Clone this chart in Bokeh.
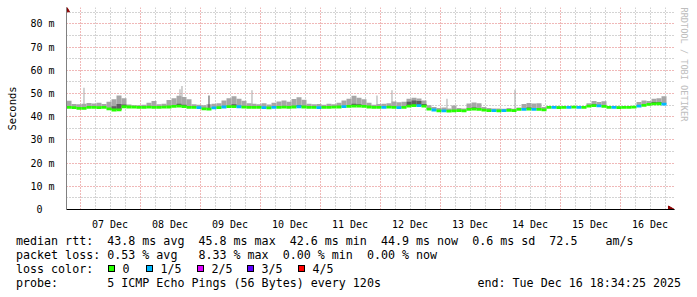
import math
import pandas as pd
from bokeh.plotting import figure
from bokeh.models import Range1d, FixedTicker, ColumnDataSource, DatetimeTickFormatter, Title, Div
from bokeh.layouts import column
from bokeh.embed import file_html
from bokeh.resources import INLINE

# ---------------- data ----------------
START = "2025-12-06 18:34:25"
END = "2025-12-16 18:34:25"
STEP_HOURS = 2  # one column per 2 hours

median_ms = [
    44.0, 43.9, 43.6, 43.6, 44.0, 44.0, 43.9, 44.0, 43.4, 42.9,
    43.0, 44.3, 44.2, 44.1, 44.0, 44.0, 44.1, 44.0, 44.0, 44.1,
    44.2, 44.5, 44.6, 44.4, 44.0, 44.0, 43.9, 43.4, 43.3, 43.8,
    43.9, 44.2, 44.4, 44.4, 44.3, 44.1, 44.0, 44.0, 44.0, 43.9,
    43.8, 44.0, 44.0, 44.1, 44.0, 44.2, 44.3, 44.2, 44.0, 44.0,
    43.9, 44.0, 44.0, 44.1, 44.2, 44.4, 44.5, 44.6, 44.6, 44.5,
    44.2, 44.0, 44.0, 44.0, 44.1, 44.0, 43.9, 44.0, 44.6, 44.8,
    44.8, 44.6, 43.3, 42.9, 42.5, 42.5, 42.4, 42.5, 42.6, 42.5,
    43.2, 43.3, 43.2, 42.8, 42.6, 42.6, 42.5, 42.6, 42.7, 42.6,
    43.2, 43.2, 43.3, 43.2, 43.2, 43.0, 44.0, 44.0, 43.9, 44.0,
    44.0, 44.1, 44.0, 44.0, 44.6, 44.8, 44.7, 44.5, 44.0, 44.0,
    43.9, 44.0, 44.0, 44.1, 44.6, 44.9, 45.3, 45.5, 45.6, 45.4,
]

smoke_max_ms = [
    46.9, 45.5, 45.4, 45.6, 45.9, 45.7, 46.0, 45.5, 46.5, 47.5,
    49.2, 48.0, 45.3, 44.9, 45.0, 45.2, 46.0, 46.8, 45.4, 45.6,
    47.2, 48.0, 49.0, 48.5, 47.5, 45.4, 45.2, 45.0, 45.4, 45.6,
    45.8, 47.0, 48.0, 48.8, 47.8, 46.9, 45.8, 45.6, 45.4, 45.8,
    45.3, 46.0, 46.6, 47.0, 46.5, 47.6, 48.4, 47.3, 45.6, 45.4,
    45.5, 45.2, 45.6, 45.4, 46.0, 47.0, 47.8, 49.0, 48.2, 47.5,
    46.0, 45.2, 45.5, 45.6, 45.8, 46.6, 46.2, 46.5, 47.8, 48.2,
    47.9, 47.0, 45.0, 44.2, 43.8, 44.0, 43.6, 44.8, 43.8, 43.6,
    45.7, 46.1, 45.8, 44.2, 43.8, 43.5, 43.6, 43.4, 43.8, 43.4,
    44.0, 45.5, 45.9, 45.7, 45.8, 44.2, 44.4, 44.3, 44.6, 44.2,
    44.4, 44.5, 44.3, 44.6, 45.8, 46.8, 46.4, 46.7, 44.6, 44.4,
    44.5, 44.3, 44.6, 44.5, 46.3, 47.0, 46.8, 47.8, 48.0, 48.8,
]

lost_pings = [
    0, 0, 0, 0, 0, 0, 0, 0, 0, 0,
    0, 0, 0, 0, 0, 0, 0, 0, 0, 0,
    0, 0, 0, 0, 0, 0, 1, 0, 0, 1,
    0, 1, 0, 0, 1, 0, 0, 0, 0, 1,
    0, 1, 0, 0, 0, 0, 1, 0, 0, 0,
    1, 0, 0, 0, 0, 1, 0, 0, 0, 0,
    0, 0, 0, 1, 0, 0, 1, 0, 0, 0,
    1, 0, 0, 1, 0, 1, 0, 0, 0, 0,
    0, 0, 0, 0, 0, 1, 0, 1, 0, 0,
    0, 1, 0, 1, 0, 0, 0, 1, 0, 0,
    1, 0, 1, 0, 0, 0, 1, 0, 0, 1,
    0, 0, 0, 0, 1, 0, 0, 0, 0, 1,
]

dark_cols = [9, 10, 11, 22, 23, 33, 46, 57, 58, 68, 69, 70, 71, 81, 92, 105, 117, 118]
dark_top_ms = [44.5, 45.5, 45.3, 45.6, 45.2, 45.4, 45.0, 45.6, 45.4, 46.5, 47.0, 46.8, 45.5,
               44.0, 44.0, 45.4, 46.3, 46.4]

spike_times = ["2025-12-07 01:22", "2025-12-08 15:46", "2025-12-08 16:34", "2025-12-09 20:34",
               "2025-12-10 14:58", "2025-12-11 22:34", "2025-12-12 04:34", "2025-12-13 02:34",
               "2025-12-14 05:46"]
spike_ms = [52.5, 51.8, 53.3, 51.4, 47.3, 49.1, 51.4, 47.7, 51.6]
dark_spike_times = ["2025-12-09 03:22"]
dark_spike_ms = [49.1]

day_labels = ["07 Dec", "08 Dec", "09 Dec", "10 Dec", "11 Dec",
              "12 Dec", "13 Dec", "14 Dec", "15 Dec", "16 Dec"]
y_ticks = [0, 10, 20, 30, 40, 50, 60, 70, 80]
y_labels = ["0  ", "10 m", "20 m", "30 m", "40 m", "50 m", "60 m", "70 m", "80 m"]

loss_names = ["0", "1/5", "2/5", "3/5", "4/5"]
loss_colors = ["#26ff00", "#00b8ff", "#dd00ff", "#5e00ff", "#ff0000"]

rtt_stats = {"avg": 43.8, "max": 45.8, "min": 42.6, "now": 44.9, "sd": 0.6, "ams": 72.5}
loss_stats = {"avg": 0.53, "max": 8.33, "min": 0.00, "now": 0.00}
probe_text = "5 ICMP Echo Pings (56 Bytes) every 120s"
end_text = "end: Tue Dec 16 18:34:25 2025"
watermark = "RRDTOOL / TOBI OETIKER"

# ---------------- derived ----------------
NB = "\u00a0"


def keep_spaces(s):
    return s.replace(" ", NB)


t0 = pd.Timestamp(START)
t1 = pd.Timestamp(END)
step = pd.Timedelta(hours=STEP_HOURS)
pix = pd.Timedelta(minutes=24)          # one screen pixel of time
n = len(median_ms)
lefts = [t0 + i * step for i in range(n)]
rights = [t0 + (i + 1) * step for i in range(n)]


def ms(ts):
    return ts.value / 1e6


cols = ColumnDataSource(dict(
    left=lefts, right=rights, med=median_ms, smax=smoke_max_ms,
    mlo=[m - 0.6 for m in median_ms], mhi=[m + 0.6 for m in median_ms],
    color=[loss_colors[k] for k in lost_pings],
))
dark = ColumnDataSource(dict(
    left=[lefts[i] for i in dark_cols], right=[rights[i] for i in dark_cols],
    bottom=[median_ms[i] for i in dark_cols], top=dark_top_ms,
))


def spike_src(times, vals):
    ts = [pd.Timestamp(t) for t in times]
    idx = [int((t - t0) / step) for t in ts]
    return ColumnDataSource(dict(left=ts, right=[t + pix for t in ts],
                                 bottom=[median_ms[i] for i in idx], top=vals))


noons = [ms(pd.Timestamp("2025-12-07 12:00") + pd.Timedelta(days=k)) for k in range(len(day_labels))]
midnights = [ms(pd.Timestamp("2025-12-07 00:00") + pd.Timedelta(days=k)) for k in range(10)]
six_h = [ms(pd.Timestamp("2025-12-06 18:00") + pd.Timedelta(hours=6 * k)) for k in range(41)]
six_h = [v for v in six_h if v not in midnights]

FONT = "DejaVu Sans Mono"
RED = "#e07070"
GRAY = "#a8a8a8"
Y_TOP = 85
PX_PER_MS = 203 / 85.0

# x range runs a few pixels past the end (room for the axis arrow), y range likewise
x_end = t1 + 8 * pix
y_end = Y_TOP + 5 / PX_PER_MS

p = figure(width=697, height=232, x_range=Range1d(ms(t0), ms(x_end)), y_range=Range1d(0, y_end),
           output_backend="svg", toolbar_location=None,
           min_border_left=66, min_border_right=23, min_border_top=7, min_border_bottom=17,
           background_fill_color="white", border_fill_color="white")
p.outline_line_color = None

# grids
p.xgrid.ticker = FixedTicker(ticks=midnights, minor_ticks=six_h)
p.xgrid.grid_line_color = RED
p.xgrid.grid_line_dash = "1 2"
p.xgrid.minor_grid_line_color = GRAY
p.xgrid.minor_grid_line_dash = "1 2"
yt = FixedTicker(ticks=y_ticks, minor_ticks=[5, 15, 25, 35, 45, 55, 65, 75, 85])
p.ygrid.ticker = yt
p.ygrid.grid_line_color = RED
p.ygrid.grid_line_dash = "1 2"
p.ygrid.minor_grid_line_color = GRAY
p.ygrid.minor_grid_line_dash = "1 2"

# axes
xa = p.xaxis[0]
xa.ticker = FixedTicker(ticks=noons)
xa.formatter = DatetimeTickFormatter(days="%d %b", hours="%d %b", hourmin="%d %b", months="%d %b")
xa.major_label_overrides = {int(k): v for k, v in zip(noons, day_labels)}
xa.major_tick_line_color = None
xa.minor_tick_line_color = None
xa.major_label_standoff = 3
xa.major_label_text_font = FONT
xa.major_label_text_font_size = "10px"
xa.major_label_text_color = "black"
xa.axis_line_color = "black"

ya = p.yaxis[0]
ya.ticker = yt
ya.major_label_overrides = {k: keep_spaces(v) for k, v in zip(y_ticks, y_labels)}
ya.major_tick_line_color = None
ya.minor_tick_line_color = None
ya.major_label_standoff = 6
ya.major_label_text_font = FONT
ya.major_label_text_font_size = "10px"
ya.major_label_text_color = "black"
ya.axis_line_color = "#808080"
ya.axis_label = "Seconds"
ya.axis_label_standoff = 9
ya.axis_label_text_font = FONT
ya.axis_label_text_font_size = "10.5px"
ya.axis_label_text_font_style = "normal"
ya.axis_label_text_color = "black"

# smoke
p.quad(left="left", right="right", bottom="med", top="smax", source=cols,
       fill_color="#a6a6a6", line_color=None)
p.quad(left="left", right="right", bottom="bottom", top="top", source=spike_src(spike_times, spike_ms),
       fill_color="#a6a6a6", line_color=None)
p.quad(left="left", right="right", bottom="bottom", top="top", source=dark,
       fill_color="#5e5e5e", line_color=None)
p.quad(left="left", right="right", bottom="bottom", top="top",
       source=spike_src(dark_spike_times, dark_spike_ms), fill_color="#4a4a4a", line_color=None)
# median coloured by loss
p.quad(left="left", right="right", bottom="mlo", top="mhi", source=cols,
       fill_color="color", line_color=None)

# axis arrows (at the ends of the axes)
p.scatter(x=[t1 + 4 * pix], y=[0], marker="triangle", size=7, angle=-math.pi / 2,
          fill_color="#8b0000", line_color="#8b0000")
p.scatter(x=[t0], y=[y_end - 1.1], marker="triangle", size=6,
          fill_color="#8b0000", line_color="#8b0000")

# watermark at the right edge
p.add_layout(Title(text=watermark, align="left", standoff=9, text_font=FONT,
                   text_font_size="8.6px", text_font_style="normal", text_color="#bdbdbd"), "right")

# ---------------- legend block (HTML, monospace, exact spacing kept) ----------------
r = rtt_stats
l = loss_stats
line1 = (f"median rtt:  {r['avg']:.1f} ms avg  {r['max']:.1f} ms max  {r['min']:.1f} ms min  "
         f"{r['now']:.1f} ms now  {r['sd']:.1f} ms sd  {r['ams']:.1f}    am/s")
line2 = (f"packet loss: {l['avg']:.2f} % avg   {l['max']:.2f} % max  {l['min']:.2f} % min  "
         f"{l['now']:.2f} % now")
line3 = "loss color:"
line4 = "probe:       " + probe_text

TXT_STYLE = (f"font-family:'{FONT}',monospace;font-size:11.66px;line-height:14px;"
             "color:#000;white-space:pre;margin:0;padding:0;")


def span(x, top, txt):
    return f'<span style="position:absolute;left:{x}px;top:{top}px;{TXT_STYLE}">{txt}</span>'


row_top = [2, 16, 30, 44]
parts = [span(16, row_top[0], line1), span(16, row_top[1], line2),
         span(16, row_top[2], line3), span(16, row_top[3], line4),
         span(477.5, row_top[3], end_text)]
box_x = [108, 146, 197, 247, 298]
for bx, name, colr in zip(box_x, loss_names, loss_colors):
    parts.append(f'<span style="position:absolute;left:{bx}px;top:33px;width:7px;height:7px;'
                 f'border:1px solid #000;background:{colr};"></span>')
    parts.append(span(bx + 14.5, row_top[2], name))

html = ('<div style="position:relative;width:697px;height:65px;margin:0;padding:0;'
        'background:#fff;">' + "".join(parts) + "</div>")

legend = Div(text=html, width=697, height=65, margin=0,
             styles={"font-size": "11.66px", "font-family": f"'{FONT}', monospace"})

layout = column(p, legend, spacing=0)
open("out.html", "w").write(file_html(layout, INLINE))
